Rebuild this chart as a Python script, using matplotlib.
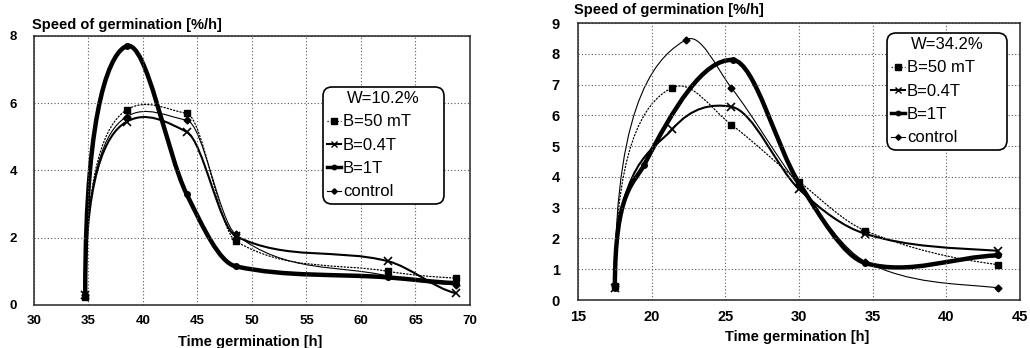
import numpy as np
import matplotlib
matplotlib.use('Agg')
import matplotlib.pyplot as plt
from matplotlib.path import Path
from matplotlib.patches import PathPatch
from matplotlib.lines import Line2D

plt.rcParams['font.family'] = ['Liberation Sans', 'DejaVu Sans']

# left panel, W=10.2%
left_x = [34.7, 38.5, 44.0, 48.5, 62.5, 68.7]
left_50mT = [0.25, 5.8, 5.7, 1.9, 1.0, 0.8]
left_04T = [0.3, 5.45, 5.15, 2.05, 1.3, 0.35]
left_1T = [0.3, 7.7, 3.3, 1.15, 0.82, 0.65]
left_control = [0.3, 5.6, 5.5, 2.1, 0.86, 0.6]

# right panel, W=34.2%
right_x_50mT = [17.5, 21.4, 25.4, 30.0, 34.5, 43.5]
right_50mT = [0.45, 6.9, 5.7, 3.85, 2.25, 1.15]
right_x_04T = [17.5, 21.4, 25.4, 30.0, 34.5, 43.5]
right_04T = [0.4, 5.55, 6.28, 3.6, 2.15, 1.6]
right_x_1T = [17.5, 19.5, 25.5, 30.0, 34.5, 43.5]
right_1T = [0.4, 4.4, 7.8, 3.8, 1.2, 1.45]
right_x_control = [17.5, 22.3, 25.4, 30.0, 34.5, 43.5]
right_control = [0.45, 8.45, 6.9, 3.7, 1.25, 0.4]

labels = ['B=50 mT', 'B=0.4T', 'B=1T', 'control']
styles = [
    dict(ls=':', lw=0.9, marker='s', ms=5),
    dict(ls='-', lw=1.5, marker='x', ms=6, mew=1.2),
    dict(ls='-', lw=3.2, marker='o', ms=4),
    dict(ls='-', lw=0.8, marker='D', ms=3.5),
]


def slopes(x, y):
    # catmull slopes, damped at extrema and limited like fritsch-carlson
    n = len(x)
    d = np.diff(y) / np.diff(x)
    m = np.zeros(n)
    for i in range(1, n - 1):
        cm = (y[i + 1] - y[i - 1]) / (x[i + 1] - x[i - 1])
        if d[i - 1] * d[i] <= 0:
            m[i] = (0.35 if d[i - 1] > 0 else 0.8) * cm
        else:
            lim = 3 * min(abs(d[i - 1]), abs(d[i]))
            m[i] = np.sign(cm) * min(abs(cm), lim)
    m[-1] = 0.5 * d[-1]
    return m


def smooth_path(xs, ys, k=0.8):
    x = np.asarray(xs, float)
    y = np.asarray(ys, float)
    m = slopes(x, y)
    verts = [(x[0], y[0])]
    codes = [Path.MOVETO]
    for i in range(len(x) - 1):
        h = x[i + 1] - x[i]
        if i == 0:
            c1 = (x[0], y[0] + k * (y[1] - y[0]))
        else:
            c1 = (x[i] + h / 3, y[i] + m[i] * h / 3)
        c2 = (x[i + 1] - h / 3, y[i + 1] - m[i + 1] * h / 3)
        verts += [c1, c2, (x[i + 1], y[i + 1])]
        codes += [Path.CURVE4] * 3
    return Path(verts, codes)


def draw_series(ax, xs, ys, st):
    ax.add_patch(PathPatch(smooth_path(xs, ys), fill=False, edgecolor='black',
                           lw=st['lw'], linestyle=st['ls'],
                           capstyle='round', joinstyle='round'))
    ax.plot(xs, ys, ls='none', marker=st['marker'], ms=st['ms'],
            mew=st.get('mew', 1.0), color='black', clip_on=False, zorder=3)


def style_axes(ax, fs, ypad):
    ax.grid(True, ls=(0, (1, 2)), color='0.35', lw=0.8)
    for s in ax.spines.values():
        s.set_linewidth(1.1)
        s.set_color('0.15')
    ax.tick_params(length=0, labelsize=fs)
    ax.tick_params(axis='x', pad=7)
    ax.tick_params(axis='y', pad=ypad)
    for t in ax.get_xticklabels() + ax.get_yticklabels():
        t.set_fontweight('bold')


fig = plt.figure(figsize=(10.3, 3.48), dpi=100)

# left
ax1 = fig.add_axes([0.033, 0.1236, 0.4233, 0.773])
left_data = [left_50mT, left_04T, left_1T, left_control]
for ys, st in zip(left_data, styles):
    draw_series(ax1, left_x, ys, st)
ax1.set_xlim(30, 70)
ax1.set_ylim(0, 8)
ax1.set_xticks(range(30, 71, 5))
ax1.set_yticks(range(0, 9, 2))
style_axes(ax1, 9.5, 12)
fig.text(0.031, 1 - 25 / 348, 'Speed of germination [%/h]', fontsize=10.5,
         fontweight='bold', va='center', ha='left')
fig.text(250 / 1030, 1 - 342 / 348, 'Time germination [h]', fontsize=10.5,
         fontweight='bold', va='center', ha='center')

# right
ax2 = fig.add_axes([0.5612, 0.1379, 0.4291, 0.796])
right_data = [(right_x_50mT, right_50mT), (right_x_04T, right_04T),
              (right_x_1T, right_1T), (right_x_control, right_control)]
for (xs, ys), st in zip(right_data, styles):
    draw_series(ax2, xs, ys, st)
ax2.set_xlim(15, 45)
ax2.set_ylim(0, 9)
ax2.set_xticks(range(15, 46, 5))
ax2.set_yticks(range(0, 10))
style_axes(ax2, 10.5, 13)
fig.text(574 / 1030, 1 - 10 / 348, 'Speed of germination [%/h]', fontsize=10.5,
         fontweight='bold', va='center', ha='left')
fig.text(797 / 1030, 1 - 337 / 348, 'Time germination [h]', fontsize=10.5,
         fontweight='bold', va='center', ha='center')

handles = [Line2D([], [], color='black', ls=st['ls'], lw=min(st['lw'], 2.5),
                  marker=st['marker'], ms=st['ms'] * 0.8, mew=1.0)
           for st in styles]

# legend boxes in pixels: left, top, right, bottom
for ax, title, box in [(ax1, 'W=10.2%', (323, 87, 444, 208)),
                       (ax2, 'W=34.2%', (887, 33, 1007, 152))]:
    l, t, r, b = box
    leg = ax.legend(handles, labels, title=title, loc='upper left',
                    bbox_to_anchor=(l / 1030, 1 - b / 348, (r - l) / 1030, (b - t) / 348),
                    bbox_transform=fig.transFigure, mode='expand',
                    fontsize=12, title_fontsize=12, handlelength=0.8,
                    handletextpad=0.15, borderpad=0.25, labelspacing=0.5,
                    borderaxespad=0, fancybox=True, framealpha=1,
                    edgecolor='black')
    leg.get_frame().set_linewidth(1.2)
    leg.get_frame().set_boxstyle('round,pad=0,rounding_size=0.55')

fig.savefig('out.png', dpi=100, facecolor='white')
